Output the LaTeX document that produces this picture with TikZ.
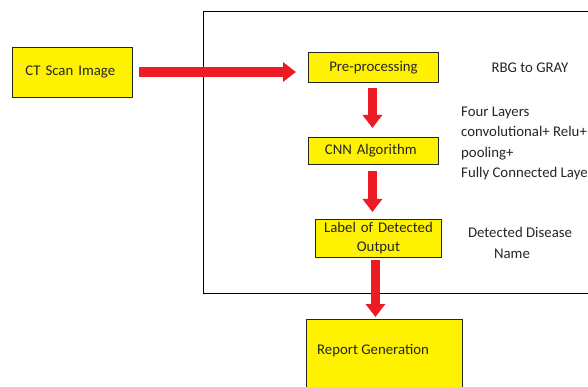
\documentclass[tikz,border=0pt]{standalone}
\usepackage{fontspec}
\setmainfont{Carlito}
\usetikzlibrary{arrows.meta}
\definecolor{boxyellow}{HTML}{FFF200}
\definecolor{arrowred}{HTML}{ED1C24}
\definecolor{txt}{HTML}{262626}
\begin{document}
\begin{tikzpicture}[x=1pt,y=-1pt,
  ybox/.style={draw=black!85,line width=0.9pt,fill=boxyellow,rectangle,font=\fontsize{14.8}{17}\selectfont,text=txt,inner sep=0pt},
  redarrow/.style={draw=arrowred,line width=9.5pt,-{Triangle[width=19pt,length=13pt]}},
  note/.style={font=\fontsize{14.8}{20.3}\selectfont,text=txt,inner sep=0pt}]
\useasboundingbox (0,0) rectangle (588,387);
\clip (0,0) rectangle (588,387);
\fill[white] (0,0) rectangle (588,387);
% outer frame
\draw[line width=1pt] (620,12) -- (203,12) -- (203,293) -- (620,293);
% boxes
\node[ybox,anchor=north west,minimum width=120,minimum height=50,text width=94,align=left] (ct) at (12,47) {CT Scan Image};
\node[ybox,anchor=north west,minimum width=130,minimum height=30,text width=130,align=center] (pre) at (308,52) {Pre-processing};
\node[ybox,anchor=north west,minimum width=130,minimum height=27,text width=119,align=left] (cnn) at (308,137) {\hspace*{11pt}CNN Algorithm};
\node[ybox,anchor=north west,minimum width=126,minimum height=38,text width=126,align=center,font=\fontsize{14.8}{19}\selectfont] (lab) at (315,219) {Label of Detected\\Output};
\node[ybox,anchor=north west,minimum width=156,minimum height=90] (rep) at (306,319) {};
\node[note,anchor=west] (reptext) at (317,351) {Report Generation};
% notes
\node[note] (rbg) at (530,68) {RBG to GRAY};
\node[note,anchor=north west,align=left] (four) at (461,107) {Four Layers\\convolutional+ Relu+\\pooling+\\Fully Connected Layer};
\node[note,align=center,font=\fontsize{14.8}{21}\selectfont] (dis) at (520,243) {Detected Disease\\\hspace*{-16pt}Name};
% arrows
\coordinate (a1) at (139,72);
\coordinate (a1e) at (296,72);
\draw[redarrow] (a1) -- (a1e);
\coordinate (a2s) at ([xshift=-1pt]pre.south);
\draw[redarrow,shorten <=5pt,shorten >=9pt] (a2s) -- (a2s |- cnn.north);
\coordinate (a3s) at ([xshift=-1pt]cnn.south);
\draw[redarrow,shorten <=6pt,shorten >=7pt] (a3s) -- (a3s |- lab.north);
\coordinate (a4s) at ([xshift=-3pt]lab.south);
\draw[redarrow,shorten <=2pt,shorten >=2pt] (a4s) -- (a4s |- rep.north);
\end{tikzpicture}
\end{document}
